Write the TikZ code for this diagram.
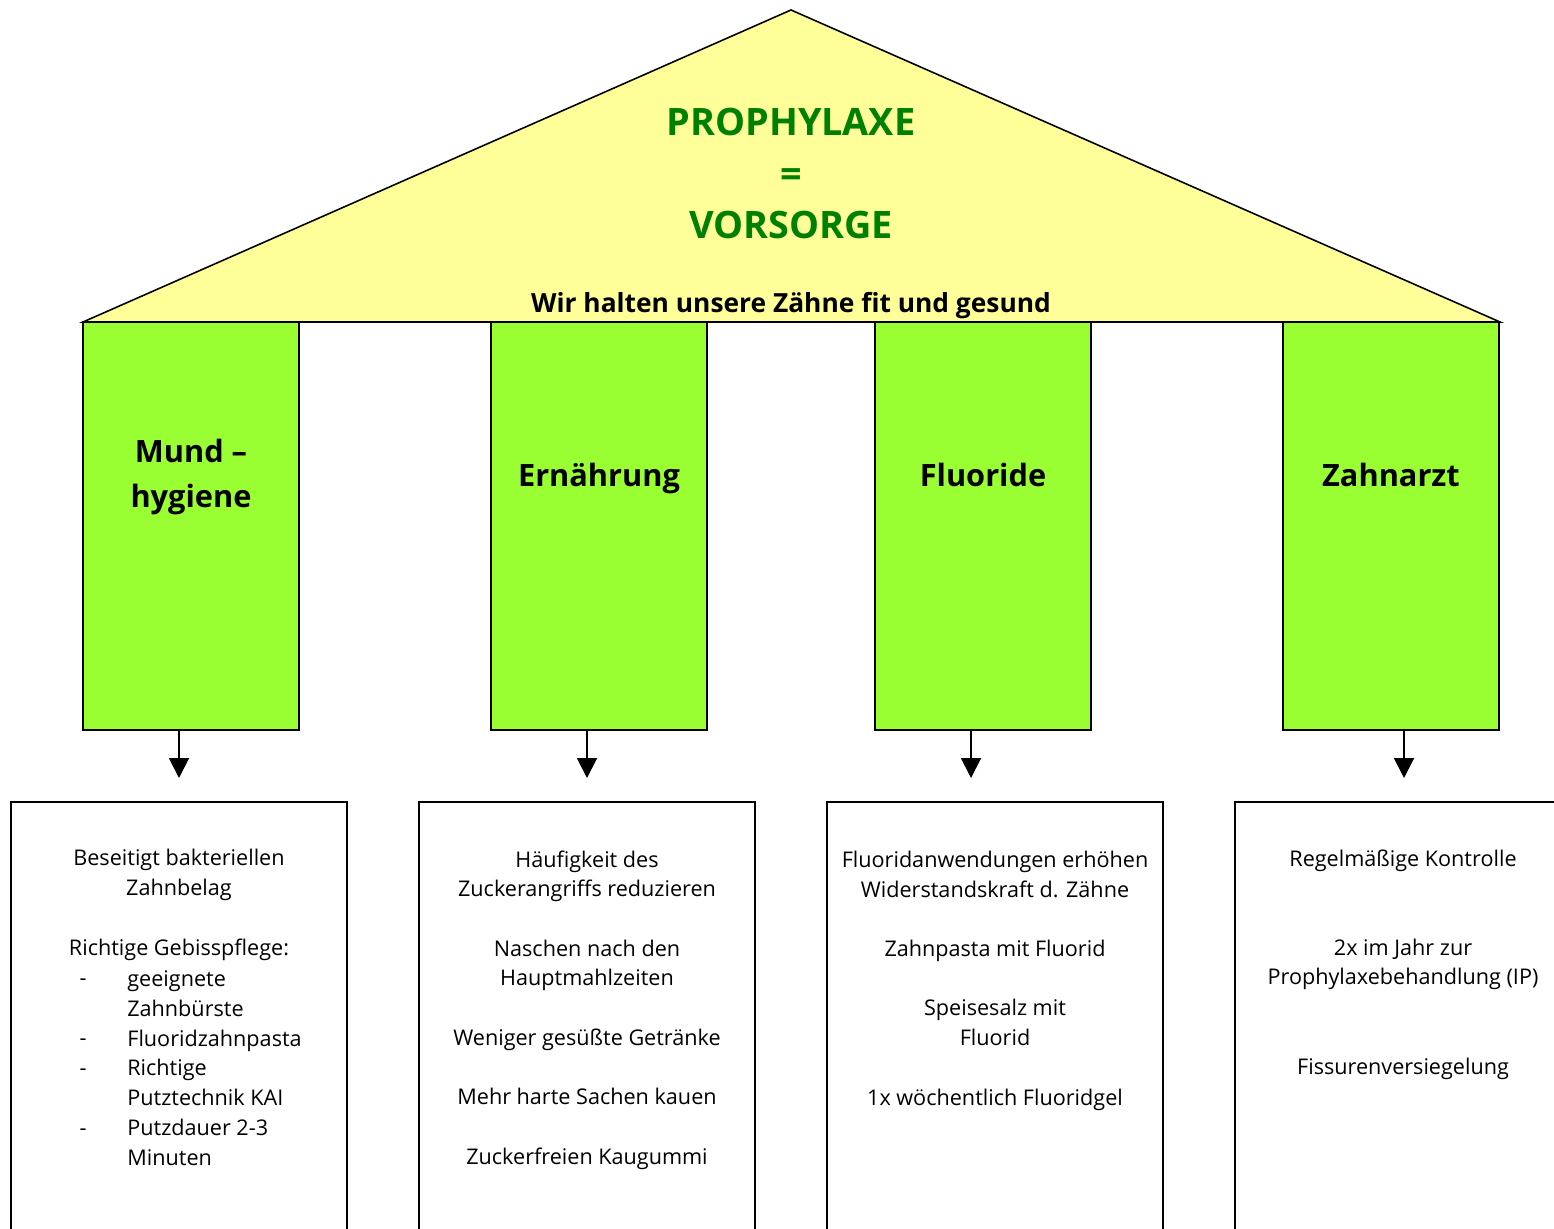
\documentclass[tikz,border=0pt]{standalone}
\usepackage{fontspec}
\setmainfont{Open Sans}
\usetikzlibrary{arrows.meta}
\usetikzlibrary{positioning}

\definecolor{roofyellow}{HTML}{FFFF99}
\definecolor{pillargreen}{HTML}{99FF33}
\definecolor{titlegreen}{HTML}{008000}

\tikzset{
  pillar/.style={draw=black,fill=pillargreen,line width=0.9pt,minimum width=4.32cm,minimum height=8.16cm,inner sep=0pt},
  infobox/.style={draw=black,line width=1.1pt,minimum width=6.72cm,minimum height=9.96cm,inner sep=0pt},
  pillartitle/.style={font=\fontsize{17.5}{25.5}\selectfont\bfseries,align=center,anchor=base},
  boxtext/.style={font=\fontsize{12.3}{16.9}\selectfont,align=center,anchor=base},
  listtext/.style={font=\fontsize{12.3}{16.9}\selectfont,align=left,anchor=base west,inner xsep=0pt},
  pointer/.style={line width=1.1pt,-{Triangle[width=0.4cm,length=0.4cm]}}
}

\begin{document}
\begin{tikzpicture}[x=0.02cm,y=-0.02cm]
\useasboundingbox (0,0) rectangle (1554,1229);

% roof (base anchors sit on the last line)
\draw[fill=roofyellow,line width=0.9pt] (83,322) -- (791,10) -- (1500,322) -- cycle;
\node[font=\fontsize{21.5}{29.5}\selectfont\bfseries,text=titlegreen,align=center,anchor=base] (title) at (791,239) {PROPHYLAXE\\=\\VORSORGE};
\node[font=\fontsize{15}{20}\selectfont\bfseries,anchor=base] (motto) at (791,313) {Wir halten unsere Z\"ahne fit und gesund};

% pillars
\node[pillar] (p1) at (191,526) {};
\node[pillar] (p2) at (599,526) {};
\node[pillar] (p3) at (983,526) {};
\node[pillar] (p4) at (1391,526) {};
\node[pillartitle] (t1) at (191,507) {Mund --\\hygiene};
\node[pillartitle] (t2) at (599,486) {Ern\"ahrung};
\node[pillartitle] (t3) at (983,486) {Fluoride};
\node[pillartitle] (t4) at (1391,486) {Zahnarzt};

% boxes below
\node[infobox] (b1) at (179,1051) {};
\node[infobox] (b2) at (587,1051) {};
\node[infobox] (b3) at (995,1051) {};
\node[infobox] (b4) at (1403,1051) {};

% arrows
\coordinate (a1) at (179,778);
\coordinate (a2) at (587,778);
\coordinate (a3) at (971,778);
\coordinate (a4) at (1404,778);
\draw[pointer] (a1 |- p1.south) -- (a1);
\draw[pointer] (a2 |- p2.south) -- (a2);
\draw[pointer] (a3 |- p3.south) -- (a3);
\draw[pointer] (a4 |- p4.south) -- (a4);

% box texts
\node[boxtext] (x1) at (179,955) {Beseitigt bakteriellen\\Zahnbelag\\[\baselineskip]Richtige Gebisspflege:};
\node[listtext] (l1) at (127,1165) {geeignete\\Zahnb\"urste\\Fluoridzahnpasta\\Richtige\\Putztechnik KAI\\Putzdauer 2-3\\Minuten};
\node[boxtext] (d1) at (83,985) {-};
\node[boxtext] (d2) at (83,1045) {-};
\node[boxtext] (d3) at (83,1075) {-};
\node[boxtext] (d4) at (83,1135) {-};

\node[boxtext] (x2) at (587,1164) {H\"aufigkeit des\\Zuckerangriffs reduzieren\\[\baselineskip]Naschen nach den\\Hauptmahlzeiten\\[\baselineskip]Weniger ges\"u\ss te Getr\"anke\\[\baselineskip]Mehr harte Sachen kauen\\[\baselineskip]Zuckerfreien Kaugummi};

\node[boxtext] (x3) at (995,1105) {Fluoridanwendungen erh\"ohen\\Widerstandskraft d. Z\"ahne\\[\baselineskip]Zahnpasta mit Fluorid\\[\baselineskip]Speisesalz mit\\Fluorid\\[\baselineskip]1x w\"ochentlich Fluoridgel};

\node[boxtext] (x4) at (1403,1074) {Regelm\"a\ss ige Kontrolle\\[2\baselineskip]2x im Jahr zur\\Prophylaxebehandlung (IP)\\[2\baselineskip]Fissurenversiegelung};

\end{tikzpicture}
\end{document}
